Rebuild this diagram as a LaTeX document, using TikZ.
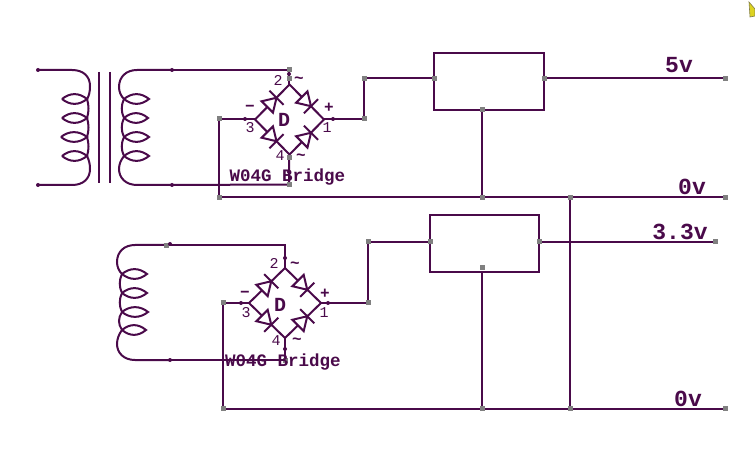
\documentclass[tikz,border=0pt]{standalone}
\usepackage{fontspec}
\setmainfont{Liberation Mono}
\definecolor{wire}{HTML}{4A0A4A}
\definecolor{pin}{HTML}{808080}
\tikzset{x=1pt,y=-1pt,
 wireline/.style={draw=wire,line width=2pt},
 thinline/.style={draw=wire,line width=2pt},
 pad/.style={fill=pin,draw=none,minimum size=5pt,inner sep=0pt,rectangle},
 tick/.style={fill=wire,draw=none,minimum size=4pt,inner sep=0pt,circle},
 big/.style={text=wire,font=\fontsize{23}{23}\selectfont\bfseries,inner sep=0pt},
 mid/.style={text=wire,font=\fontsize{17.5}{17}\selectfont\bfseries,inner sep=0pt},
 pinnum/.style={text=wire,font=\fontsize{15}{15}\selectfont,inner sep=0pt},
 sym/.style={text=wire,font=\fontsize{16}{16}\selectfont\bfseries,inner sep=0pt},
 letterd/.style={text=wire,font=\fontsize{20}{20}\selectfont\bfseries,inner sep=0pt},
 regbox/.style={draw=wire,line width=2pt,fill=none,inner sep=0pt}
}
\newcommand{\dio}[3]{\begin{scope}[shift={(#1,#2)},rotate=#3]
 \draw[thinline,fill=white,line join=miter] (-7,-8) -- (6,0) -- (-7,8) -- cycle;
 \draw[thinline] (6,-10) -- (6,10);
\end{scope}}
\newcommand{\brg}[4]{%
 \draw[wireline] (#1-#3,#2) -- (#1,#2-#4) -- (#1+#3,#2) -- (#1,#2+#4) -- cycle;
 \dio{#1-#3*0.5}{#2-#4*0.5}{45}
 \dio{#1+#3*0.5}{#2-#4*0.5}{-45}
 \dio{#1-#3*0.5}{#2+#4*0.5}{-45}
 \dio{#1+#3*0.5}{#2+#4*0.5}{45}
}
\newcommand{\lens}[3]{\draw[thinline] (#1,#3) .. controls (#1+8,#3-6.5) and (#2-8,#3-6.5) .. (#2,#3) .. controls (#2-8,#3+6.5) and (#1+8,#3+6.5) .. (#1,#3);}
\begin{document}
\begin{tikzpicture}
\useasboundingbox (0,0) rectangle (755,462);
\fill[yellow!85!black,draw=black!55!yellow,line width=.6pt] (749,2) -- (755,9) -- (755,16) -- (750,17) -- cycle;
\coordinate (pA) at (38,70); \coordinate (pB) at (38,185);
\coordinate (sA) at (172,70); \coordinate (sB) at (172,185);
\coordinate (t2) at (289,70); \coordinate (b2) at (289,184.5);
% transformer primary
\draw[thinline] (pA) -- (72,70) .. controls (84,70) and (90,77) .. (90,86) .. controls (90,92) and (89,96) .. (87,99)
  .. controls (89,105) and (89,112) .. (87,118) .. controls (89,124) and (89,131) .. (87,137)
  .. controls (89,143) and (89,150) .. (87,156) .. controls (89,160) and (90,164) .. (90,169)
  .. controls (90,178) and (84,185) .. (72,185) -- (pB);
\lens{62}{87}{99}\lens{62}{87}{118}\lens{61}{87}{137}\lens{62}{87}{156}
\draw[thinline] (99,72) -- (99,183);
\draw[thinline] (110,72) -- (110,183);
% secondary
\draw[thinline] (sA) -- (137,70) .. controls (126,70) and (119,77) .. (119,87) .. controls (119,92) and (121,96) .. (124,99)
  .. controls (121,105) and (121,112) .. (124,118) .. controls (121,124) and (121,131) .. (124,137)
  .. controls (121,143) and (121,150) .. (124,156) .. controls (121,160) and (119,164) .. (119,169)
  .. controls (119,178) and (126,185) .. (137,185) -- (sB);
\lens{124}{149}{99}\lens{124}{148}{118}\lens{124}{149}{137}\lens{124}{149}{156}
\draw[wireline] (sA) -- (t2) -- (289,85);
\draw[wireline] (sB) -- (b2) -- (289,155);
% bridge 1
\brg{289.5}{119.5}{34.5}{35}
\draw[wireline] (255,119) -- (219,119) -- (219,197.5) -- (725,197.5);
\draw[wireline] (324,119) -- (364,119) -- (364,78.5) -- (434,78.5);
% regulator 1
\node[regbox,minimum width=110pt,minimum height=57pt] (r1) at (489,81.5) {};
\draw[wireline] (544,78.5) -- (725,78.5);
\draw[wireline] (482,110) -- (482,197.5);
\draw[wireline] (570,197.5) -- (570,408.5);
% coil 2
\coordinate (qA) at (168,245); \coordinate (qB) at (170,360);
\draw[thinline] (qA) -- (135,245) .. controls (124,245) and (117,252) .. (117,262) .. controls (117,267) and (119,271) .. (122,274)
  .. controls (119,280) and (119,287) .. (122,293) .. controls (119,299) and (119,306) .. (122,312)
  .. controls (118,318) and (118,324) .. (122,330) .. controls (119,334) and (117,339) .. (117,344)
  .. controls (117,353) and (124,360) .. (135,360) -- (qB);
\lens{122}{147}{274}\lens{122}{147}{293}\lens{122}{148}{312}\lens{122}{146}{330}
\draw[wireline] (qA) -- (285,245) -- (285,268);
\draw[wireline] (qB) -- (285,360) -- (285,338);
% bridge 2
\brg{285}{303}{36}{35}
\draw[wireline] (249,303) -- (223,303) -- (223,408.5) -- (725,408.5);
\draw[wireline] (321,303) -- (368,303) -- (368,242) -- (430,242);
\node[regbox,minimum width=109pt,minimum height=57pt] (r2) at (484.5,243.5) {};
\draw[wireline] (539,242) -- (715,242);
\draw[wireline] (482,272) -- (482,408.5);
% pads
\foreach \n/\p in {a/{289,70},b/{289,184.5},c/{289,79},d/{289,158},e/{219,119},f/{219,197.5},g/{364,119},h/{364,78.5},i/{434,78.5},k/{544,78.5},l/{482,110},m/{482,197.5},n/{725,78.5},o/{725,197.5},p/{570,197.5},q/{570,408.5},r/{715,242},s/{539,242},t/{430,242},u/{482,268},v/{482,408.5},w/{368,242},x/{368,303},y/{223,303},z/{223,408.5},A/{725,408.5},B/{166,245.5},C/{285,360}}
  \node[pad] (pad\n) at (\p) {};
% ticks
\foreach \n/\p in {a/{38,70},b/{38,185},c/{172,70},d/{172,185},e/{289,74},f/{245,119},g/{333,119},h/{170,360},i/{170,244},j/{241,303},k/{328,303},l/{285,258},m/{285,349},n/{289,172}}
  \node[tick] (tk\n) at (\p) {};
% text
\node[mid] (t1) at (287.5,177) {W04G Bridge};
\node[mid] (t2x) at (283,362) {W04G Bridge};
\node[big] (v5) at (679,65) {5v};
\node[big] (v0a) at (692,187) {0v};
\node[big] (v33) at (680,232) {3.3v};
\node[big] (v0b) at (688,399) {0v};
\foreach \n/\x/\y/\s in {a/278/80/2,b/327/128/1,c/250/128/3,d/280/156/4,e/274/263/2,f/324/313/1,g/246/313/3,h/276/341/4}
  \node[pinnum] (num\n) at (\x,\y) {\s};
\foreach \n/\x/\y/\s in {a/299/80/\textasciitilde,b/301/157/\textasciitilde,c/295/265/\textasciitilde,d/297/341/\textasciitilde,e/250/108/−,f/329/108/+,g/245/294/−,h/325/294/+}
  \node[sym] (sym\n) at (\x,\y) {\s};
\node[letterd] (da) at (284,120) {D};
\node[letterd] (db) at (280,305) {D};
\end{tikzpicture}
\end{document}
